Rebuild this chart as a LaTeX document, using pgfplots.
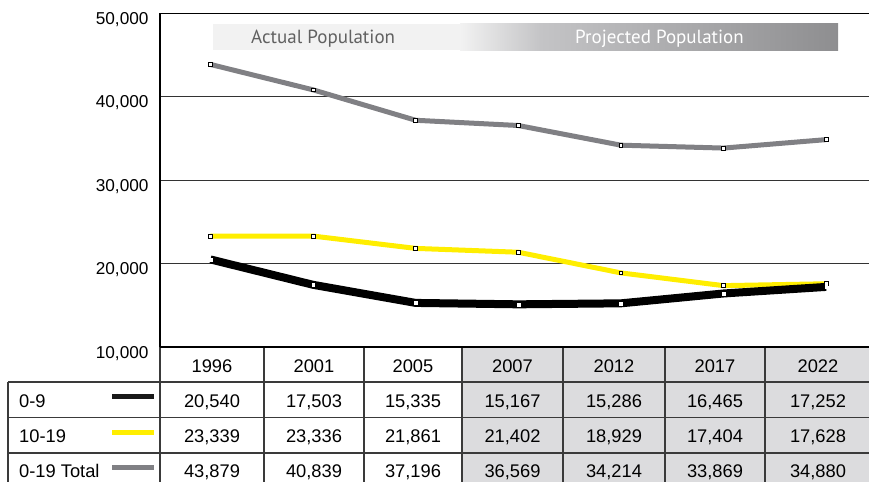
\documentclass[border=0pt]{standalone}
\usepackage{pgfplots}
\pgfplotsset{compat=1.18}
\usepackage{fontspec}
\setmainfont{Liberation Sans}
\newfontfamily\bannerfont{PT Sans}

\definecolor{totalgray}{RGB}{128,128,132}
\definecolor{teenyellow}{RGB}{255,238,0}
\definecolor{projfill}{RGB}{220,220,222}
\definecolor{rulegray}{RGB}{58,58,58}
\definecolor{bannerlight}{RGB}{242,242,242}
\definecolor{bannermid}{RGB}{196,196,198}
\definecolor{bannerdark}{RGB}{142,142,144}

\newcommand{\cellfont}{\fontsize{18.3bp}{21bp}\selectfont}

\begin{document}
\begin{tikzpicture}
\useasboundingbox (0,0) rectangle (869bp,482bp);

% ---- banner and data table, laid out in pixel units from the top-left corner
\begin{scope}[x=1bp,y=-1bp,yshift=482bp]
  % actual / projected banner
  \fill[bannerlight] (213,24) rectangle (461,50.5);
  \shade[left color=bannerlight,right color=bannermid] (460,24) rectangle (541,50.5);
  \shade[left color=bannermid,right color=bannerdark] (540,24) rectangle (838,50.5);
  \node[anchor=base west,inner sep=0pt,text=black!62] at (251,43.5)
    {\bannerfont\fontsize{19bp}{22bp}\selectfont Actual Population};
  \node[anchor=base west,inner sep=0pt,text=white] at (575,43.5)
    {\bannerfont\fontsize{19bp}{22bp}\selectfont Projected Population};

  % shaded projection columns
  \fill[projfill] (462,347.5) rectangle (869,482);

  % table rules
  \begin{scope}[draw=rulegray,line width=1.2bp]
    \draw (8,382) -- (869,382);
    \draw (8,417.5) -- (869,417.5);
    \draw (8,453) -- (869,453);
    \draw (8,382) -- (8,482);
    \foreach \xx in {160,264,364,462,563,665,765}
      \draw (\xx,347.5) -- (\xx,482);
  \end{scope}

  % row labels with line keys
  \node[anchor=base west,inner sep=0pt] at (19,407.3) {\cellfont 0-9};
  \node[anchor=base west,inner sep=0pt] at (19,442.6) {\cellfont 10-19};
  \node[anchor=base west,inner sep=0pt] at (19,478) {\cellfont 0-19 Total};
  \draw[black!90,line width=5bp] (112,397) -- (154,397);
  \draw[teenyellow,line width=5bp] (112,432.5) -- (154,432.5);
  \draw[totalgray,line width=5bp] (112,467.5) -- (154,467.5);

  % year headings
  \foreach \cx/\yr in {212/1996, 314/2001, 413/2005, 512.5/2007,
                       614/2012, 715/2017, 818/2022}
    \node[anchor=base,inner sep=0pt] at (\cx,372.7) {\cellfont\yr};

  % values per year: 0-9, 10-19, 0-19 total
  \foreach \cx/\a/\b/\c in {
      212/{20,540}/{23,339}/{43,879},
      314/{17,503}/{23,336}/{40,839},
      413/{15,335}/{21,861}/{37,196},
      512.5/{15,167}/{21,402}/{36,569},
      614/{15,286}/{18,929}/{34,214},
      715/{16,465}/{17,404}/{33,869},
      818/{17,252}/{17,628}/{34,880}} {
    \node[anchor=base,inner sep=0pt] at (\cx,407.3) {\cellfont\a};
    \node[anchor=base,inner sep=0pt] at (\cx,442.6) {\cellfont\b};
    \node[anchor=base,inner sep=0pt] at (\cx,478) {\cellfont\c};
  }
\end{scope}

\begin{axis}[
  at={(160bp,134.5bp)}, anchor=south west,
  scale only axis, width=709bp, height=334.2bp,
  xmin=-0.492, xmax=6.418, ymin=10000, ymax=50000,
  axis x line*=box, axis y line*=left,
  x axis line style={black,line width=1.2bp},
  y axis line style={black,line width=1.2bp},
  xtick=\empty,
  ytick={10000,20000,30000,40000,50000},
  major tick length=0pt,
  ymajorgrids, grid style={black!80,line width=1.1bp},
  scaled y ticks=false,
  yticklabel style={
    font=\fontsize{17.2bp}{20bp}\selectfont,
    yshift=-6bp, xshift=-8bp,
    /pgf/number format/.cd, 1000 sep={,}, assume math mode=true},
  every axis plot/.append style={
    mark=square*, mark size=1.9bp,
    mark options={solid,fill=white,draw=black,line width=0.8bp}},
]
% 0-19 Total
\addplot[totalgray, line width=5bp] coordinates {
  (0,43879) (1,40839) (2,37196) (3,36569) (4,34214) (5,33869) (6,34880)};
% 10-19
\addplot[teenyellow, line width=5bp] coordinates {
  (0,23339) (1,23336) (2,21861) (3,21402) (4,18929) (5,17404) (6,17628)};
% 0-9
\addplot[black, line width=8bp,
  mark options={solid,fill=white,draw=white,line width=0.3bp}, mark size=1.4bp] coordinates {
  (0,20540) (1,17503) (2,15335) (3,15167) (4,15286) (5,16465) (6,17252)};
\end{axis}

\draw[black,line width=2bp] (160bp,134.5bp) -- (869bp,134.5bp);
\end{tikzpicture}
\end{document}
